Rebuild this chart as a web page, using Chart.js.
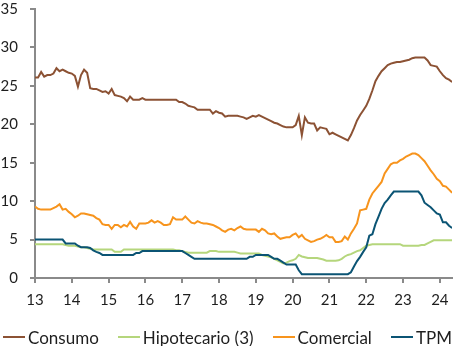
<!DOCTYPE html>
<html>
<head>
<meta charset="utf-8">
<script src="https://cdn.jsdelivr.net/npm/chart.js@4"></script>
<style>
  html, body { margin: 0; padding: 0; background: #fff; }
  #wrap { width: 453px; height: 346px; position: relative; }
  #legend {
    position: absolute; left: 3px; right: 1px; top: 327px; height: 20px;
    display: flex; justify-content: space-between; align-items: center;
    font-family: Lato, "Open Sans", sans-serif; font-size: 17px; color: #1e1e1e;
  }
  #legend .item { display: flex; align-items: center; white-space: nowrap; }
  #legend .swatch { width: 22px; height: 2px; margin-right: 3px; }
</style>
</head>
<body>
<div id="wrap"><canvas id="chart"></canvas><div id="legend"></div></div>
<script>
// monthly series, Jan 2013 .. May 2024 (x axis shows 2-digit years)
const startYear = 13;
const yTicks = [0, 5, 10, 15, 20, 25, 30, 35];
const seriesNames = ['Consumo', 'Hipotecario (3)', 'Comercial', 'TPM'];
const seriesColors = ['#8c5234', '#b5d67c', '#f7941d', '#0b5474'];
const drawOrder = [1, 2, 1, 0]; // TPM on top

const consumo = [
  26.1, 26.1, 26.8, 26.2, 26.4, 26.4, 26.6, 27.3, 26.9, 27.1, 26.9, 26.7,
  26.6, 26.3, 24.9, 26.4, 27.1, 26.7, 24.7, 24.6, 24.6, 24.4, 24.2, 24.3,
  24.0, 24.6, 23.8, 23.7, 23.6, 23.4, 23.0, 23.6, 23.2, 23.2, 23.2, 23.4,
  23.2, 23.2, 23.2, 23.2, 23.2, 23.2, 23.2, 23.2, 23.2, 23.2, 23.2, 22.9,
  22.9, 22.7, 22.4, 22.3, 22.2, 21.9, 21.9, 21.9, 21.9, 21.9, 21.4, 21.7,
  21.5, 21.4, 21.0, 21.1, 21.1, 21.1, 21.1, 21.0, 20.9, 20.7, 20.9, 21.1,
  21.0, 21.2, 21.0, 20.8, 20.6, 20.4, 20.2, 20.1, 19.9, 19.7, 19.6, 19.6,
  19.6, 19.9, 21.1, 18.6, 20.9, 20.2, 20.1, 20.1, 19.2, 19.6, 19.5, 19.4,
  18.7, 18.9, 18.7, 18.5, 18.3, 18.1, 17.9, 18.6, 19.5, 20.5, 21.2, 21.8,
  22.4, 23.3, 24.4, 25.6, 26.3, 26.9, 27.3, 27.7, 27.9, 28.0, 28.1, 28.1,
  28.2, 28.3, 28.4, 28.6, 28.7, 28.7, 28.7, 28.7, 28.3, 27.7, 27.6, 27.5,
  26.9, 26.4, 26.0, 25.8, 25.5
];

const hipotecario = [
  4.4, 4.4, 4.4, 4.4, 4.4, 4.4, 4.4, 4.4, 4.4, 4.4, 4.3, 4.2,
  4.2, 4.2, 4.1, 4.0, 4.0, 3.9, 3.8, 3.7, 3.7, 3.7, 3.7, 3.7,
  3.7, 3.7, 3.4, 3.4, 3.4, 3.7, 3.7, 3.7, 3.7, 3.7, 3.7, 3.7,
  3.7, 3.7, 3.7, 3.7, 3.7, 3.7, 3.7, 3.7, 3.7, 3.7, 3.6, 3.6,
  3.5, 3.4, 3.3, 3.3, 3.3, 3.3, 3.3, 3.3, 3.3, 3.5, 3.5, 3.5,
  3.4, 3.4, 3.4, 3.4, 3.4, 3.4, 3.3, 3.2, 3.2, 3.2, 3.2, 3.2,
  3.2, 3.2, 3.0, 2.9, 2.8, 2.7, 2.5, 2.3, 2.1, 1.9, 2.0, 2.2,
  2.3, 2.5, 3.0, 2.8, 2.7, 2.6, 2.6, 2.6, 2.6, 2.5, 2.4, 2.25,
  2.25, 2.25, 2.25, 2.3, 2.5, 2.8, 3.0, 3.1, 3.3, 3.5, 3.6, 3.9,
  4.2, 4.3, 4.4, 4.4, 4.4, 4.4, 4.4, 4.4, 4.4, 4.4, 4.4, 4.4,
  4.2, 4.2, 4.2, 4.2, 4.2, 4.2, 4.3, 4.3, 4.5, 4.7, 4.9, 4.9,
  4.9, 4.9, 4.9, 4.9, 4.9
];

const comercial = [
  9.3, 9.0, 8.9, 8.9, 8.9, 8.9, 9.1, 9.3, 9.6, 8.9, 9.0, 8.6,
  8.3, 7.9, 8.1, 8.4, 8.4, 8.3, 8.2, 8.1, 7.8, 7.6, 7.0, 6.9,
  6.9, 6.4, 6.9, 6.9, 6.6, 6.9, 6.7, 7.3, 6.7, 6.4, 7.1, 7.1,
  7.1, 7.2, 7.5, 7.2, 7.4, 7.2, 6.9, 6.9, 7.0, 7.9, 7.6, 7.6,
  7.6, 8.0, 7.6, 7.2, 7.1, 7.4, 7.2, 7.1, 7.1, 7.0, 6.9, 6.7,
  6.5, 6.2, 6.0, 6.3, 6.4, 6.2, 6.5, 6.7, 6.4, 6.3, 6.3, 6.3,
  6.3, 6.0, 6.4, 6.2, 5.8, 5.7, 5.8, 5.4, 5.1, 5.2, 5.3, 5.3,
  5.6, 5.8, 5.3, 5.6, 5.1, 4.9, 4.7, 4.8, 5.0, 5.1, 5.3, 5.6,
  5.3, 5.3, 4.7, 4.7, 4.8, 5.4, 5.0, 5.8, 6.4, 7.1, 8.8, 8.9,
  9.0, 10.2, 11.0, 11.5, 12.0, 12.5, 13.6, 14.2, 14.8, 15.0, 15.0, 15.3,
  15.5, 15.8, 16.0, 16.2, 16.2, 16.0, 15.6, 15.2, 14.6, 14.0, 13.5, 12.9,
  12.6, 12.0, 11.9, 11.5, 11.1
];

const tpm = [
  5.0, 5.0, 5.0, 5.0, 5.0, 5.0, 5.0, 5.0, 5.0, 5.0, 4.5, 4.5,
  4.5, 4.5, 4.2, 4.0, 4.0, 4.0, 3.9, 3.6, 3.4, 3.25, 3.0, 3.0,
  3.0, 3.0, 3.0, 3.0, 3.0, 3.0, 3.0, 3.0, 3.0, 3.25, 3.25, 3.5,
  3.5, 3.5, 3.5, 3.5, 3.5, 3.5, 3.5, 3.5, 3.5, 3.5, 3.5, 3.5,
  3.5, 3.25, 3.0, 2.75, 2.5, 2.5, 2.5, 2.5, 2.5, 2.5, 2.5, 2.5,
  2.5, 2.5, 2.5, 2.5, 2.5, 2.5, 2.5, 2.5, 2.5, 2.5, 2.75, 2.75,
  3.0, 3.0, 3.0, 3.0, 3.0, 2.75, 2.5, 2.5, 2.25, 2.0, 1.75, 1.75,
  1.75, 1.75, 1.0, 0.5, 0.5, 0.5, 0.5, 0.5, 0.5, 0.5, 0.5, 0.5,
  0.5, 0.5, 0.5, 0.5, 0.5, 0.5, 0.5, 0.75, 1.5, 2.2, 2.75, 3.4,
  4.0, 5.5, 5.7, 7.0, 8.0, 9.0, 9.75, 10.2, 10.75, 11.25, 11.25, 11.25,
  11.25, 11.25, 11.25, 11.25, 11.25, 11.25, 10.75, 9.8, 9.5, 9.2, 8.8, 8.4,
  8.25, 7.25, 7.25, 6.8, 6.5
];

const months = consumo.map((_, i) => startYear + i / 12);
const allSeries = [consumo, hipotecario, comercial, tpm];

const axisColor = '#8a8a8a';
const textColor = '#1e1e1e';
const fontFamily = 'Lato, "Open Sans", sans-serif';

// legend below the plot
const legendEl = document.getElementById('legend');
legendEl.innerHTML = seriesNames.map((name, k) =>
    `<span class="item"><span class="swatch" style="background:${seriesColors[k]}"></span>${name}</span>`
).join('');

const ctx = document.getElementById('chart').getContext('2d');
new Chart(ctx, {
    type: 'line',
    data: {
        datasets: allSeries.map((s, k) => ({
            label: seriesNames[k],
            data: s.map((v, i) => ({ x: months[i], y: v })),
            borderColor: seriesColors[k],
            backgroundColor: seriesColors[k],
            borderWidth: 2,
            pointRadius: 0,
            tension: 0,
            order: drawOrder[k]
        }))
    },
    options: {
        responsive: true,
        maintainAspectRatio: false,
        animation: false,
        layout: { padding: { top: 9, right: 1, left: 0, bottom: 36 } },
        plugins: {
            tooltip: { enabled: false },
            legend: { display: false }
        },
        scales: {
            x: {
                type: 'linear',
                min: 13,
                max: 24.33,
                border: { color: axisColor, width: 2 },
                grid: { display: true, drawOnChartArea: false, drawTicks: true, tickLength: 5, color: axisColor, lineWidth: 2 },
                ticks: {
                    stepSize: 1,
                    includeBounds: false,
                    autoSkip: false,
                    maxRotation: 0,
                    padding: 8,
                    color: textColor,
                    font: { family: fontFamily, size: 15 },
                    callback: v => String(v)
                },
                afterFit: s => { s.height = 32; s.paddingLeft = 0; s.paddingRight = 0; }
            },
            y: {
                min: 0,
                max: 35,
                border: { color: axisColor, width: 2 },
                grid: { display: true, drawOnChartArea: false, drawTicks: true, tickLength: 5, color: axisColor, lineWidth: 2 },
                afterBuildTicks: s => { s.ticks = yTicks.map(v => ({ value: v })); },
                ticks: {
                    padding: 12,
                    color: textColor,
                    font: { family: fontFamily, size: 15 }
                },
                afterFit: s => { s.width = 35; s.paddingTop = 0; s.paddingBottom = 0; }
            }
        }
    }
});
</script>
</body>
</html>
